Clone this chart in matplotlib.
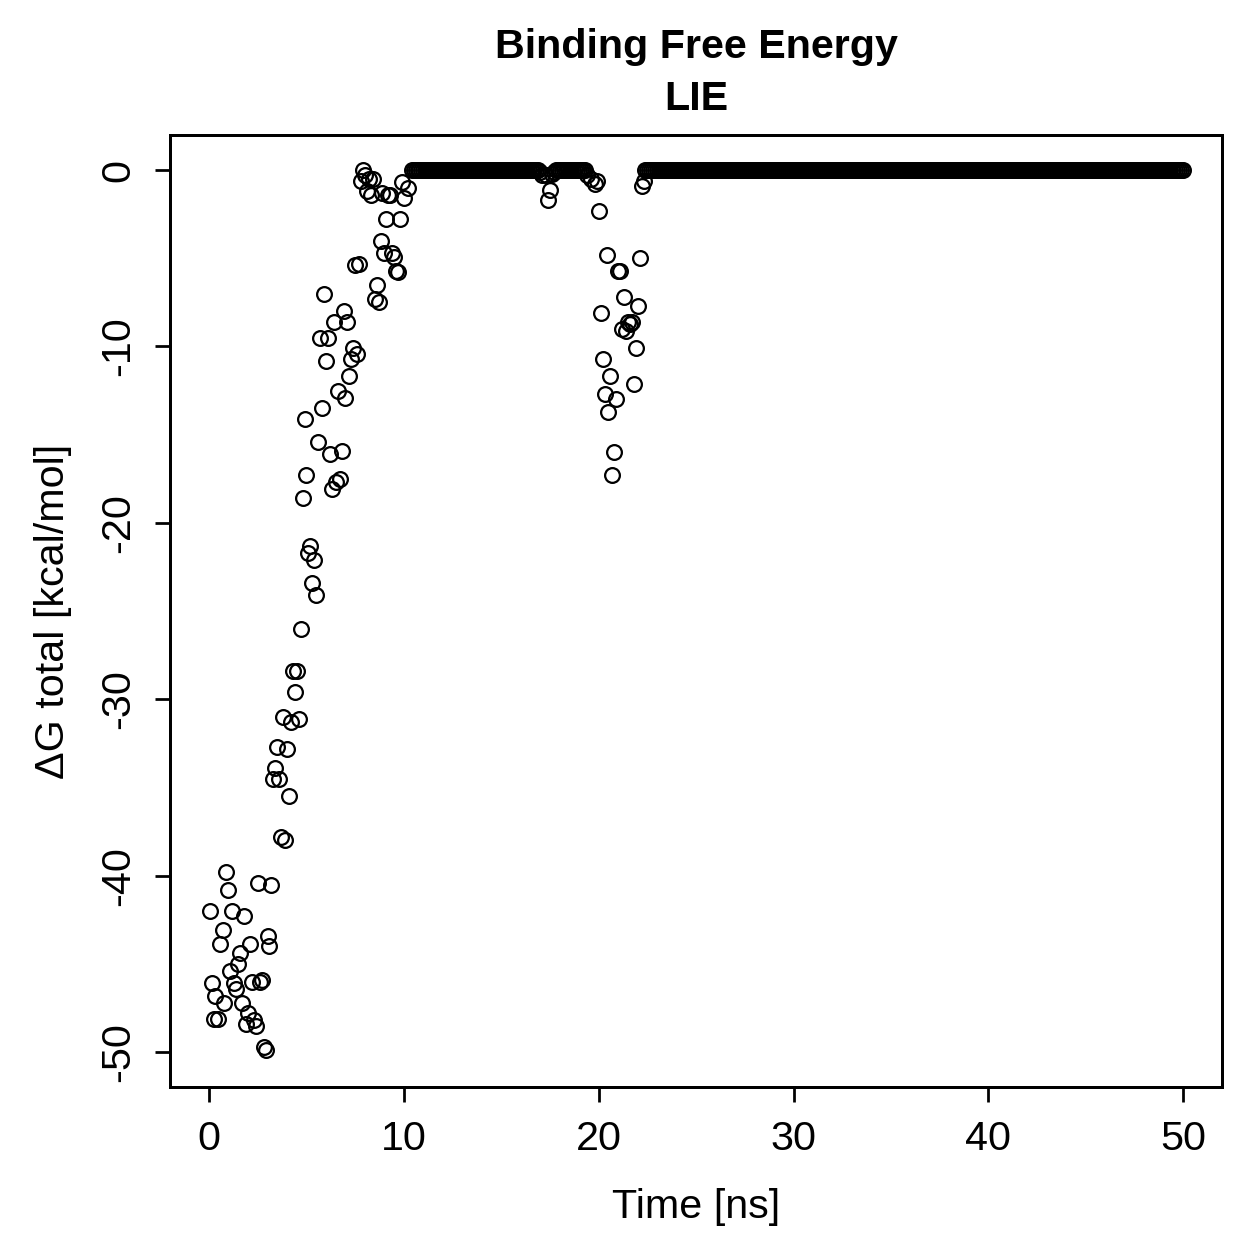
import numpy as np
import matplotlib
matplotlib.use('Agg')
import matplotlib.pyplot as plt

plt.rcParams['font.family'] = ['Liberation Sans', 'DejaVu Sans']
plt.rcParams['axes.unicode_minus'] = False

# scattered points (time in ns, dG in kcal/mol)
early_t = [0.05, 0.15, 0.3, 0.25, 0.45, 0.55, 0.7, 0.75, 0.85, 0.95,
           1.05, 1.2, 1.3, 1.4, 1.5, 1.6, 1.7, 1.8, 1.9, 2.0,
           2.1, 2.2, 2.3, 2.4, 2.5, 2.6, 2.7, 2.8, 2.9, 3.0,
           3.1, 3.2, 3.3, 3.4, 3.5, 3.6, 3.7, 3.8, 3.9, 4.0,
           4.1, 4.2, 4.3, 4.4, 4.5, 4.6, 4.7, 4.8, 4.9, 5.0,
           5.1, 5.2, 5.3, 5.4, 5.5, 5.6, 5.7, 5.8, 5.9, 6.0,
           6.1, 6.2, 6.3, 6.4, 6.5, 6.6, 6.7, 6.8, 6.9, 7.0,
           7.1, 7.2, 7.3, 7.4, 7.5, 7.6, 7.7, 7.8, 7.9, 8.0,
           8.1, 8.2, 8.3, 8.4, 8.5, 8.6, 8.7, 8.8, 8.9, 9.0,
           9.1, 9.2, 9.3, 9.4, 9.5, 9.6, 9.7, 9.8, 9.9, 10.0,
           10.2]
early_dg = [-42.0, -46.1, -46.8, -48.1, -48.1, -43.9, -43.1, -47.2, -39.8, -40.8,
            -45.4, -42.0, -46.1, -46.4, -45.0, -44.4, -47.2, -42.3, -48.4, -47.8,
            -43.9, -46.0, -48.2, -48.5, -40.4, -46.0, -45.9, -49.7, -49.9, -43.4,
            -44.0, -40.5, -34.5, -33.9, -32.7, -34.5, -37.8, -31.0, -38.0, -32.8,
            -35.5, -31.3, -28.4, -29.6, -28.4, -31.1, -26.0, -18.6, -14.1, -17.3,
            -21.7, -21.3, -23.4, -22.1, -24.1, -15.4, -9.5, -13.5, -7.0, -10.8,
            -9.5, -16.1, -18.1, -8.6, -17.7, -12.5, -17.5, -15.9, -8.0, -12.9,
            -8.6, -11.7, -10.7, -10.1, -5.4, -10.4, -5.3, -0.6, 0.0, -0.3,
            -1.2, -0.5, -1.4, -0.5, -7.3, -6.5, -7.5, -4.0, -1.3, -4.7,
            -2.8, -1.4, -1.4, -4.7, -4.9, -5.7, -5.8, -2.8, -0.7, -1.6,
            -1.0]

mid_t = [17.0, 17.1, 17.3, 17.4, 17.5, 17.6, 17.7,
         19.4, 19.6, 19.8, 19.9, 20.0, 20.1, 20.2, 20.3, 20.4, 20.5, 20.6,
         20.7, 20.8, 20.9, 21.0, 21.1, 21.2, 21.3, 21.4, 21.5, 21.6, 21.7,
         21.8, 21.9, 22.0, 22.1, 22.2, 22.3]
mid_dg = [-0.1, -0.3, -0.3, -1.7, -1.1, -0.2, -0.1,
          -0.3, -0.5, -0.8, -0.6, -2.3, -8.1, -10.7, -12.7, -4.8, -13.7, -11.7,
          -17.3, -16.0, -13.0, -5.7, -5.7, -9.0, -7.2, -9.1, -8.6, -8.7, -8.6,
          -12.1, -10.1, -7.7, -5.0, -0.9, -0.6]

# stretches where dG sits at 0 (start, end in ns)
zero_runs = [(10.4, 16.9), (17.8, 19.3), (22.4, 50.0)]

t_zero = np.concatenate([np.arange(a, b + 0.05, 0.1) for a, b in zero_runs])
time = np.concatenate([early_t, mid_t, t_zero])
dg = np.concatenate([early_dg, mid_dg, np.zeros(len(t_zero))])

fig = plt.figure(figsize=(7, 7), dpi=180)
ax = fig.add_axes([0.135, 0.137, 0.835, 0.756])
ax.plot(time, dg, linestyle='none', marker='o', markersize=5.9,
        markerfacecolor='none', markeredgecolor='black', markeredgewidth=0.9)

ax.set_xlim(-2, 52)
ax.set_ylim(-52, 2)
ax.set_xticks([0, 10, 20, 30, 40, 50])
ax.set_yticks([0, -10, -20, -30, -40, -50])
ax.tick_params(direction='out', length=6, width=1.1, labelsize=16.5, pad=7)
for lab in ax.get_yticklabels():
    lab.set_rotation(90)
    lab.set_va('center')
for s in ax.spines.values():
    s.set_linewidth(1.2)

ax.set_xlabel('Time [ns]', fontsize=16.5, labelpad=12)
ax.set_ylabel('ΔG total [kcal/mol]', fontsize=16.5, labelpad=11)
ax.set_title('Binding Free Energy\nLIE', fontsize=16.5, fontweight='bold',
             pad=10, linespacing=1.45)

fig.savefig('out.png', dpi=180)
